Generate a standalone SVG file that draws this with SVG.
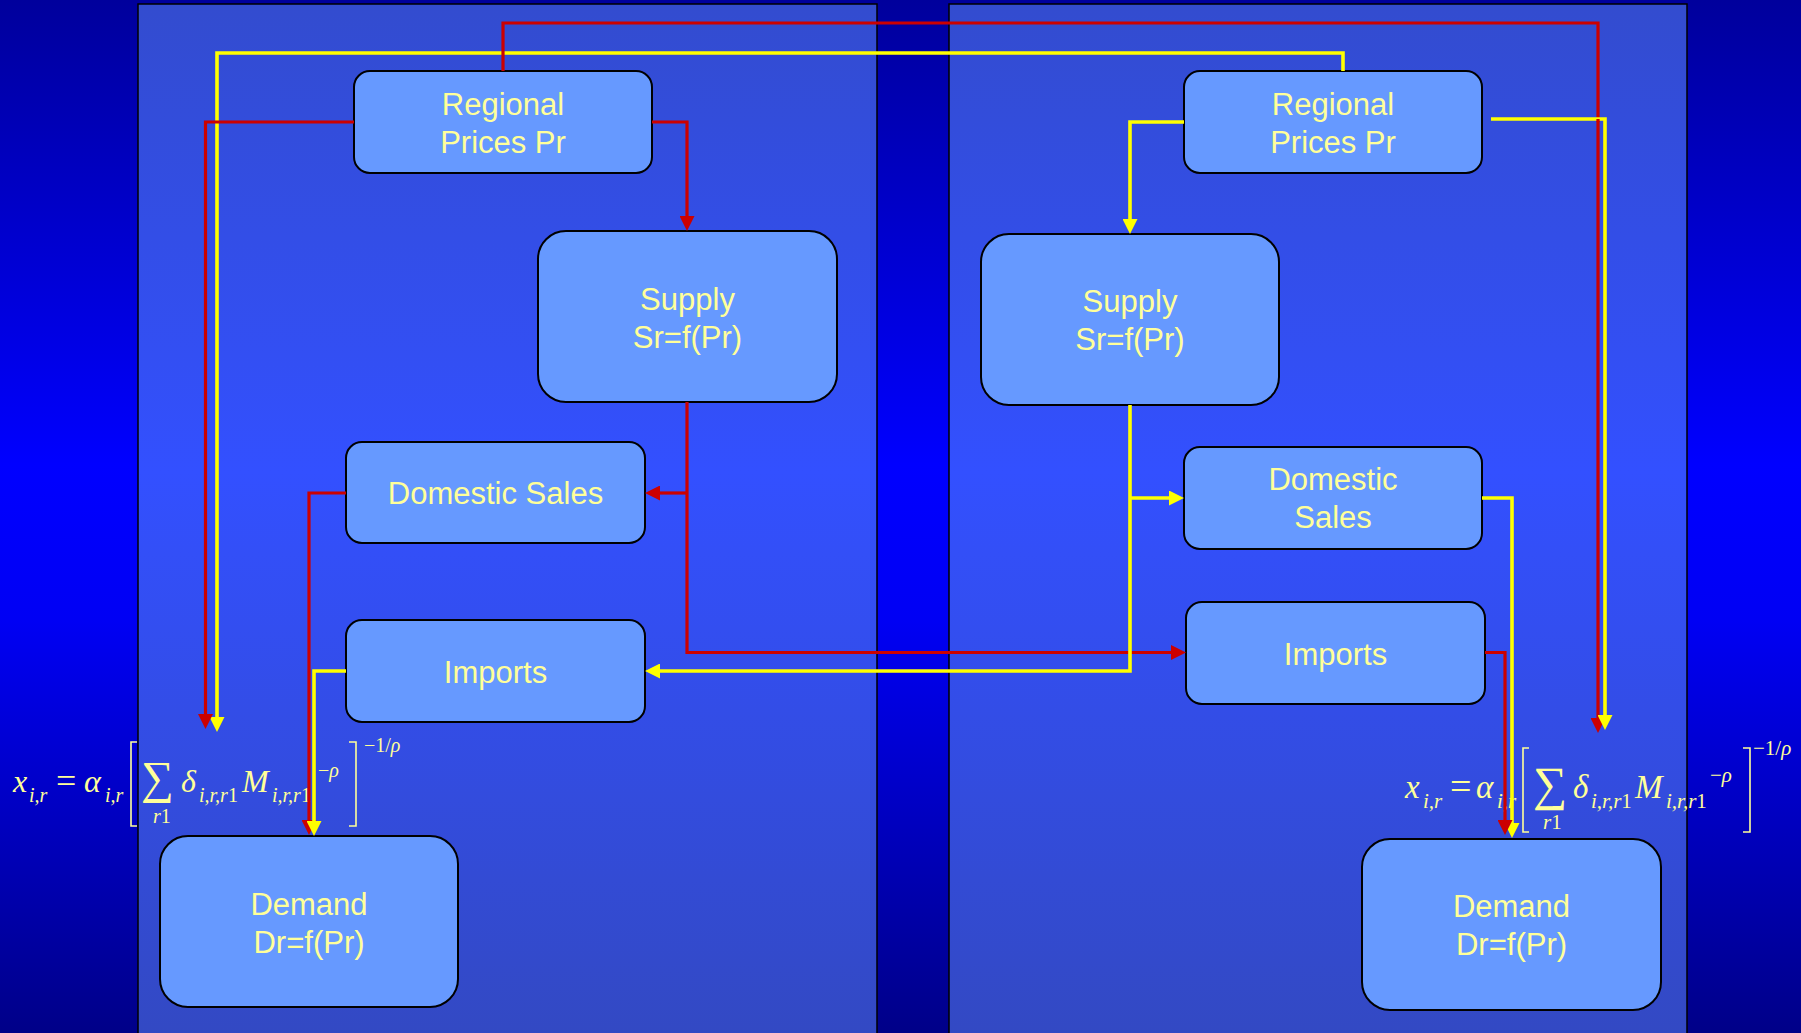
<svg xmlns="http://www.w3.org/2000/svg" width="1801" height="1033" viewBox="0 0 1801 1033">
<defs>
<linearGradient id="bg" x1="0" y1="0" x2="0" y2="1">
<stop offset="0" stop-color="#00009C"/>
<stop offset="0.45" stop-color="#0000FF"/>
<stop offset="0.6" stop-color="#0000F4"/>
<stop offset="1" stop-color="#000088"/>
</linearGradient>
<linearGradient id="pn" x1="0" y1="0" x2="0" y2="1">
<stop offset="0" stop-color="#334CCF"/>
<stop offset="0.45" stop-color="#3350FF"/>
<stop offset="0.6" stop-color="#334EF0"/>
<stop offset="1" stop-color="#3349C2"/>
</linearGradient>
<marker id="ar" markerUnits="userSpaceOnUse" viewBox="0 0 15 15" refX="1" refY="7.5" markerWidth="15" markerHeight="15" orient="auto">
<path d="M0,0 L15,7.5 L0,15 z" fill="#CC0000"/>
</marker>
<marker id="ay" markerUnits="userSpaceOnUse" viewBox="0 0 15 15" refX="1" refY="7.5" markerWidth="15" markerHeight="15" orient="auto">
<path d="M0,0 L15,7.5 L0,15 z" fill="#FFFF00"/>
</marker>
</defs>
<style>
.box{fill:#6699FF;stroke:#000;stroke-width:2}
.lbl{font-family:"Liberation Sans",Arial,sans-serif;font-size:31px;fill:#FFFF99;text-anchor:middle}
.red{fill:none;stroke:#CC0000;stroke-width:3.2}
.yel{fill:none;stroke:#FFFF00;stroke-width:3.6}
.fm{font-family:"Liberation Serif","Times New Roman",serif;fill:#FFFF99;font-style:italic}
.up{font-style:normal}
.br{fill:none;stroke:#FFFF99;stroke-width:1.6}
</style>
<rect x="0" y="0" width="1801" height="1033" fill="url(#bg)"/>
<rect x="138" y="4" width="739" height="1040" fill="url(#pn)" stroke="#000" stroke-width="1.5"/>
<rect x="949" y="4" width="738" height="1040" fill="url(#pn)" stroke="#000" stroke-width="1.5"/>

<g id="formula-left">
<text class="fm" x="13" y="792" font-size="32">x</text>
<text class="fm" x="29" y="802" font-size="20">i,r</text>
<text class="fm up" x="56" y="793" font-size="36">=</text>
<text class="fm" x="84" y="792" font-size="32">α</text>
<text class="fm" x="105" y="802" font-size="20">i,r</text>
<polyline class="br" points="137,742 131,742 131,826 137,826"/>
<text class="fm up" x="141" y="793" font-size="46">∑</text>
<text class="fm" x="153" y="823" font-size="20">r<tspan class="up">1</tspan></text>
<text class="fm" x="181" y="792" font-size="32">δ</text>
<text class="fm" x="199" y="802" font-size="20">i,r,r<tspan class="up">1</tspan></text>
<text class="fm" x="242" y="792" font-size="32">M</text>
<text class="fm" x="272" y="802" font-size="20">i,r,r<tspan class="up">1</tspan></text>
<text class="fm" x="318" y="777" font-size="20"><tspan class="up">−</tspan>ρ</text>
<polyline class="br" points="349,742 356,742 356,826 349,826"/>
<text class="fm" x="364" y="752" font-size="20"><tspan class="up">−1/</tspan>ρ</text>
</g>

<g id="formula-right">
<text class="fm" x="1405" y="798" font-size="33">x</text>
<text class="fm" x="1423" y="808" font-size="21">i,r</text>
<text class="fm up" x="1450" y="799" font-size="38">=</text>
<text class="fm" x="1476" y="798" font-size="33">α</text>
<text class="fm" x="1497" y="808" font-size="21">i,r</text>
<polyline class="br" points="1529,748 1523,748 1523,832 1529,832"/>
<text class="fm up" x="1533" y="800" font-size="48">∑</text>
<text class="fm" x="1543" y="829" font-size="21">r<tspan class="up">1</tspan></text>
<text class="fm" x="1573" y="798" font-size="33">δ</text>
<text class="fm" x="1591" y="808" font-size="21">i,r,r<tspan class="up">1</tspan></text>
<text class="fm" x="1635" y="798" font-size="33">M</text>
<text class="fm" x="1666" y="808" font-size="21">i,r,r<tspan class="up">1</tspan></text>
<text class="fm" x="1710" y="782" font-size="21"><tspan class="up">−</tspan>ρ</text>
<polyline class="br" points="1743,748 1750,748 1750,832 1743,832"/>
<text class="fm" x="1753" y="755" font-size="21"><tspan class="up">−1/</tspan>ρ</text>
</g>

<g id="L-regional"><rect class="box" x="354" y="71" width="298" height="102" rx="16"/><text class="lbl" x="503" y="115">Regional</text><text class="lbl" x="503" y="153">Prices Pr</text></g>
<g id="L-supply"><rect class="box" x="538" y="231" width="299" height="171" rx="28"/><text class="lbl" x="687.5" y="310">Supply</text><text class="lbl" x="687.5" y="348">Sr=f(Pr)</text></g>
<g id="L-domestic"><rect class="box" x="346" y="442" width="299" height="101" rx="16"/><text class="lbl" x="495.5" y="504">Domestic Sales</text></g>
<g id="L-imports"><rect class="box" x="346" y="620" width="299" height="102" rx="16"/><text class="lbl" x="495.5" y="682.5">Imports</text></g>
<g id="L-demand"><rect class="box" x="160" y="836" width="298" height="171" rx="28"/><text class="lbl" x="309" y="915">Demand</text><text class="lbl" x="309" y="953">Dr=f(Pr)</text></g>

<g id="R-regional"><rect class="box" x="1184" y="71" width="298" height="102" rx="16"/><text class="lbl" x="1333" y="115">Regional</text><text class="lbl" x="1333" y="153">Prices Pr</text></g>
<g id="R-supply"><rect class="box" x="981" y="234" width="298" height="171" rx="28"/><text class="lbl" x="1130" y="312">Supply</text><text class="lbl" x="1130" y="350">Sr=f(Pr)</text></g>
<g id="R-domestic"><rect class="box" x="1184" y="447" width="298" height="102" rx="16"/><text class="lbl" x="1333" y="490">Domestic</text><text class="lbl" x="1333" y="528">Sales</text></g>
<g id="R-imports"><rect class="box" x="1186" y="602" width="299" height="102" rx="16"/><text class="lbl" x="1335.5" y="664.5">Imports</text></g>
<g id="R-demand"><rect class="box" x="1362" y="839" width="299" height="171" rx="28"/><text class="lbl" x="1511.5" y="917">Demand</text><text class="lbl" x="1511.5" y="955">Dr=f(Pr)</text></g>

<g id="connectors">
<path class="yel" d="M1343,71 V53 H217 V718" marker-end="url(#ay)"/>
<path class="red" d="M503,71 V23 H1598 V719" marker-end="url(#ar)"/>
<path class="red" d="M354,122 H205.5 V715" marker-end="url(#ar)"/>
<path class="red" d="M652,122 H687 V217" marker-end="url(#ar)"/>
<path class="red" d="M687,402 V652.5 H1172" marker-end="url(#ar)"/>
<path class="red" d="M687,493 H659" marker-end="url(#ar)"/>
<path class="red" d="M346,493 H309 V821" marker-end="url(#ar)"/>
<path class="yel" d="M346,671 H314 V822" marker-end="url(#ay)"/>
<path class="yel" d="M1184,122 H1130 V220" marker-end="url(#ay)"/>
<path class="yel" d="M1130,405 V671 H659" marker-end="url(#ay)"/>
<path class="yel" d="M1130,498 H1170" marker-end="url(#ay)"/>
<path class="yel" d="M1491,119 H1605 V716" marker-end="url(#ay)"/>
<path class="red" d="M1598,119 V122"/>
<path class="yel" d="M1482,498 H1512 V824" marker-end="url(#ay)"/>
<path class="red" d="M1485,652.5 H1505 V821" marker-end="url(#ar)"/>
</g>
</svg>
